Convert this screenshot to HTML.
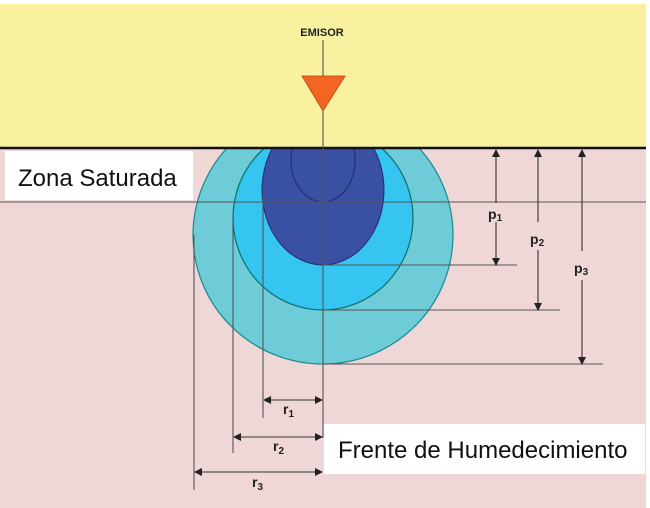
<!DOCTYPE html>
<html><head><meta charset="utf-8"><style>
html,body{margin:0;padding:0;background:#fff;}
svg{display:block;}
</style></head><body>
<svg width="650" height="508" viewBox="0 0 650 508" xmlns="http://www.w3.org/2000/svg" font-family="Liberation Sans, sans-serif">
<defs>
<clipPath id="soil"><rect x="0" y="148" width="650" height="360"/></clipPath>
<marker id="a" markerWidth="8" markerHeight="8" refX="7" refY="4" orient="auto" markerUnits="userSpaceOnUse"><path d="M0,0 L8,4 L0,8 z" fill="#222"/></marker>
<marker id="b" markerWidth="8" markerHeight="8" refX="1" refY="4" orient="auto" markerUnits="userSpaceOnUse"><path d="M8,0 L0,4 L8,8 z" fill="#222"/></marker>
</defs>
<rect x="0" y="4" width="646" height="144" fill="#f8f19f"/>
<rect x="0" y="148" width="646" height="360" fill="#efd7d7"/>
<g clip-path="url(#soil)">
<ellipse cx="323" cy="235" rx="130" ry="129" fill="#6ecbd8" stroke="#1a8a8a" stroke-width="1.2"/>
<ellipse cx="323" cy="218" rx="90" ry="92" fill="#36c5f0" stroke="#0d6f6a" stroke-width="1.2"/>
<ellipse cx="323" cy="190" rx="61" ry="75" fill="#3a50a3" stroke="#1f2a66" stroke-width="1"/>
<ellipse cx="323" cy="160" rx="32" ry="42" fill="none" stroke="#1f2a66" stroke-width="1"/>
</g>
<line x1="0" y1="148" x2="646" y2="148" stroke="#111" stroke-width="2.5"/>
<g stroke="#555" stroke-width="1.1" fill="none">
<line x1="0" y1="202" x2="646" y2="202"/>
<line x1="323" y1="265" x2="517" y2="265"/>
<line x1="323" y1="310" x2="560" y2="310"/>
<line x1="323" y1="364" x2="603" y2="364"/>
<line x1="194" y1="235" x2="194" y2="490"/>
<line x1="233" y1="215" x2="233" y2="453"/>
<line x1="263" y1="190" x2="263" y2="418"/>
<line x1="323" y1="40" x2="323" y2="438"/>
</g>
<g stroke="#333" stroke-width="1.1" fill="none">
<line x1="496" y1="150" x2="496" y2="203" marker-start="url(#b)"/>
<line x1="496" y1="222" x2="496" y2="265" marker-end="url(#a)"/>
<line x1="538" y1="150" x2="538" y2="222" marker-start="url(#b)"/>
<line x1="538" y1="250" x2="538" y2="310" marker-end="url(#a)"/>
<line x1="582" y1="150" x2="582" y2="251" marker-start="url(#b)"/>
<line x1="582" y1="280" x2="582" y2="364" marker-end="url(#a)"/>
<line x1="264" y1="400" x2="322" y2="400" marker-start="url(#b)" marker-end="url(#a)"/>
<line x1="234" y1="437" x2="322" y2="437" marker-start="url(#b)" marker-end="url(#a)"/>
<line x1="195" y1="472" x2="322" y2="472" marker-start="url(#b)" marker-end="url(#a)"/>
</g>
<polygon points="302,76 345,76 323,111" fill="#f26522" stroke="#b54510" stroke-width="0.8"/>
<text x="322" y="36" text-anchor="middle" font-size="11" font-weight="bold" fill="#222">EMISOR</text>
<g font-weight="bold" fill="#222" font-size="14">
<text x="488" y="219">p<tspan font-size="10" dy="2">1</tspan></text>
<text x="530" y="244">p<tspan font-size="10" dy="2">2</tspan></text>
<text x="574" y="273">p<tspan font-size="10" dy="2">3</tspan></text>
<text x="283" y="414">r<tspan font-size="10" dy="3">1</tspan></text>
<text x="273" y="451">r<tspan font-size="10" dy="3">2</tspan></text>
<text x="252" y="487">r<tspan font-size="10" dy="3">3</tspan></text>
</g>
<rect x="5" y="151" width="188" height="49" fill="#fff"/>
<text x="18" y="186" font-size="24" fill="#111">Zona Saturada</text>
<rect x="324" y="424" width="321" height="50" fill="#fff"/>
<text x="338" y="458" font-size="24" fill="#111">Frente de Humedecimiento</text>
</svg>
</body></html>
